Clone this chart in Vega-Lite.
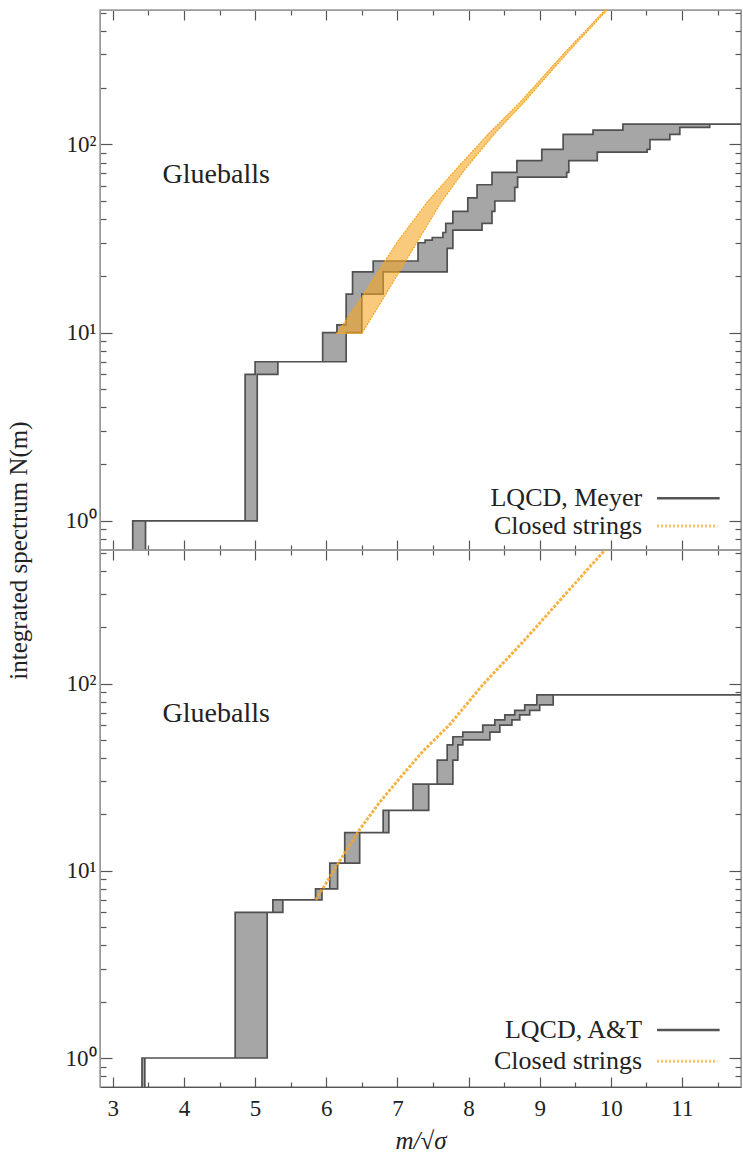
{
  "$schema": "https://vega.github.io/schema/vega-lite/v6.json",
  "padding": {"left": 5, "top": 8, "right": 2, "bottom": 5},
  "spacing": 0,
  "bounds": "flush",
  "config": {
    "view": {"stroke": "#9a9a9a", "strokeWidth": 1.5},
    "font": "Liberation Serif",
    "axis": {"labelFont": "Liberation Serif", "titleFont": "Liberation Serif", "labelFontSize": 23, "titleFontSize": 25, "labelColor": "#222", "titleColor": "#222", "titleFontWeight": "normal", "grid": false, "domainColor": "#9a9a9a", "tickColor": "#555", "tickWidth": 1.2}
  },
  "datasets": {
    "meyer": [
      {"m": 2.5, "up": 0.5, "lo": 0.5}, {"m": 3.28, "up": 1, "lo": 0.5}, {"m": 3.46, "up": 1, "lo": 1},
      {"m": 4.86, "up": 6, "lo": 1}, {"m": 5.0, "up": 7, "lo": 1}, {"m": 5.03, "up": 7, "lo": 6},
      {"m": 5.32, "up": 7, "lo": 7}, {"m": 5.95, "up": 10, "lo": 7}, {"m": 6.15, "up": 11, "lo": 7},
      {"m": 6.28, "up": 16, "lo": 10}, {"m": 6.37, "up": 21, "lo": 10}, {"m": 6.5, "up": 21, "lo": 16},
      {"m": 6.66, "up": 24, "lo": 16}, {"m": 6.8, "up": 24, "lo": 21}, {"m": 7.29, "up": 30, "lo": 21},
      {"m": 7.39, "up": 31, "lo": 21}, {"m": 7.49, "up": 32, "lo": 21}, {"m": 7.64, "up": 34, "lo": 21},
      {"m": 7.68, "up": 38, "lo": 21}, {"m": 7.7, "up": 38, "lo": 28}, {"m": 7.78, "up": 44, "lo": 35},
      {"m": 7.99, "up": 52, "lo": 35}, {"m": 8.12, "up": 61, "lo": 35}, {"m": 8.19, "up": 61, "lo": 38},
      {"m": 8.33, "up": 71, "lo": 44}, {"m": 8.37, "up": 71, "lo": 50}, {"m": 8.65, "up": 71, "lo": 59},
      {"m": 8.68, "up": 82, "lo": 59}, {"m": 8.69, "up": 82, "lo": 67}, {"m": 9.03, "up": 94, "lo": 67},
      {"m": 9.33, "up": 113, "lo": 67}, {"m": 9.38, "up": 113, "lo": 71}, {"m": 9.41, "up": 113, "lo": 82},
      {"m": 9.75, "up": 119, "lo": 82}, {"m": 9.81, "up": 119, "lo": 91}, {"m": 10.17, "up": 128, "lo": 91},
      {"m": 10.51, "up": 128, "lo": 94}, {"m": 10.55, "up": 128, "lo": 106}, {"m": 10.83, "up": 128, "lo": 113},
      {"m": 10.97, "up": 128, "lo": 123}, {"m": 11.39, "up": 128, "lo": 128}, {"m": 12.0, "up": 128, "lo": 128}
    ],
    "at": [
      {"m": 2.5, "up": 0.5, "lo": 0.5}, {"m": 3.41, "up": 1, "lo": 0.5}, {"m": 3.45, "up": 1, "lo": 1},
      {"m": 4.72, "up": 6, "lo": 1}, {"m": 5.17, "up": 6, "lo": 6}, {"m": 5.25, "up": 7, "lo": 6},
      {"m": 5.39, "up": 7, "lo": 7}, {"m": 5.85, "up": 8, "lo": 7}, {"m": 5.94, "up": 8, "lo": 8},
      {"m": 6.05, "up": 11, "lo": 8}, {"m": 6.16, "up": 11, "lo": 11}, {"m": 6.26, "up": 16, "lo": 11},
      {"m": 6.47, "up": 16, "lo": 16}, {"m": 6.8, "up": 21, "lo": 16}, {"m": 6.88, "up": 21, "lo": 21},
      {"m": 7.22, "up": 29, "lo": 21}, {"m": 7.44, "up": 29, "lo": 29}, {"m": 7.56, "up": 39, "lo": 29},
      {"m": 7.7, "up": 47, "lo": 29}, {"m": 7.78, "up": 52, "lo": 39}, {"m": 7.85, "up": 52, "lo": 47},
      {"m": 7.92, "up": 55, "lo": 50}, {"m": 8.2, "up": 60, "lo": 50}, {"m": 8.3, "up": 60, "lo": 55},
      {"m": 8.37, "up": 64, "lo": 55}, {"m": 8.44, "up": 64, "lo": 60}, {"m": 8.51, "up": 68, "lo": 60},
      {"m": 8.61, "up": 68, "lo": 64}, {"m": 8.65, "up": 72, "lo": 64}, {"m": 8.72, "up": 72, "lo": 68},
      {"m": 8.79, "up": 77, "lo": 68}, {"m": 8.86, "up": 77, "lo": 72}, {"m": 8.96, "up": 87, "lo": 72},
      {"m": 9.0, "up": 87, "lo": 77}, {"m": 9.19, "up": 87, "lo": 87}, {"m": 12.0, "up": 87, "lo": 87}
    ],
    "strTop": [
      {"N": 9.9, "left": 6.149, "right": 6.501},
      {"N": 15.7, "left": 6.515, "right": 6.824},
      {"N": 30.1, "left": 6.993, "right": 7.274},
      {"N": 49.1, "left": 7.415, "right": 7.612},
      {"N": 73.6, "left": 7.823, "right": 7.949},
      {"N": 116, "left": 8.301, "right": 8.385},
      {"N": 167, "left": 8.722, "right": 8.779},
      {"N": 308, "left": 9.355, "right": 9.397},
      {"N": 516, "left": 9.917, "right": 9.946},
      {"N": 644, "left": 10.142, "right": 10.17}
    ],
    "strBot": [
      {"m": 5.854, "N": 7}, {"m": 6.191, "N": 11.3}, {"m": 6.473, "N": 16.7}, {"m": 6.754, "N": 23.3},
      {"m": 7.035, "N": 31.3}, {"m": 7.359, "N": 43.5}, {"m": 7.738, "N": 60.5}, {"m": 8.202, "N": 98.8},
      {"m": 8.765, "N": 167}, {"m": 9.664, "N": 404}, {"m": 9.917, "N": 516}, {"m": 10.128, "N": 644}
    ]
  },
  "vconcat": [
    {
      "width": 641,
      "height": 540,
      "layer": [
        {
          "data": {"name": "meyer"},
          "mark": {"type": "area", "interpolate": "step-after", "fill": "#a6a6a6", "stroke": "#505050", "strokeWidth": 1.7, "clip": true},
          "encoding": {
            "x": {"field": "m", "type": "quantitative", "scale": {"domain": [2.82, 11.83], "nice": false, "zero": false},
              "axis": {"orient": "bottom", "values": [3, 3.5, 4, 4.5, 5, 5.5, 6, 6.5, 7, 7.5, 8, 8.5, 9, 9.5, 10, 10.5, 11, 11.5], "labels": false, "title": null,
                "tickSize": {"condition": {"test": "datum.value % 1 == 0", "value": -10}, "value": -5}}},
            "y": {"field": "up", "type": "quantitative", "scale": {"type": "log", "domain": [0.7, 517], "nice": false},
              "axis": {"orient": "left", "values": [0.8, 0.9, 1, 2, 3, 4, 5, 6, 7, 8, 9, 10, 20, 30, 40, 50, 60, 70, 80, 90, 100, 200, 300, 400, 500],
                "labelExpr": "datum.value == 1 ? '10⁰' : datum.value == 10 ? '10¹' : datum.value == 100 ? '10²' : ''",
                "tickSize": {"condition": {"test": "datum.value == 1 || datum.value == 10 || datum.value == 100", "value": -12}, "value": -6},
                "labelPadding": 16,
                "title": "integrated spectrum N(m)", "titleX": -82, "titleY": 540, "titleAngle": -90, "titleAlign": "center", "titleBaseline": "middle"}},
            "y2": {"field": "lo"}
          }
        },
        {
          "data": {"name": "strTop"},
          "mark": {"type": "area", "orient": "horizontal", "fill": "#f5a623", "fillOpacity": 0.6, "stroke": "#f5a623", "strokeWidth": 1.2, "strokeDash": [2, 1], "clip": true},
          "encoding": {
            "y": {"field": "N", "type": "quantitative", "scale": {"type": "log", "domain": [0.7, 517], "nice": false},
              "axis": {"orient": "right", "values": [0.8, 0.9, 1, 2, 3, 4, 5, 6, 7, 8, 9, 10, 20, 30, 40, 50, 60, 70, 80, 90, 100, 200, 300, 400, 500], "labels": false, "title": null,
                "tickSize": {"condition": {"test": "datum.value == 1 || datum.value == 10 || datum.value == 100", "value": -12}, "value": -6}}},
            "x": {"field": "left", "type": "quantitative", "scale": {"domain": [2.82, 11.83], "nice": false, "zero": false},
              "axis": {"orient": "top", "values": [3, 3.5, 4, 4.5, 5, 5.5, 6, 6.5, 7, 7.5, 8, 8.5, 9, 9.5, 10, 10.5, 11, 11.5], "labels": false, "title": null,
                "tickSize": {"condition": {"test": "datum.value % 1 == 0", "value": -10}, "value": -5}}},
            "x2": {"field": "right"}
          }
        },
        {
          "data": {"values": [{"m": 3.7, "N": 69, "t": "Glueballs"}]},
          "mark": {"type": "text", "align": "left", "baseline": "middle", "fontSize": 28, "font": "Liberation Serif", "color": "#222"},
          "encoding": {
            "x": {"field": "m", "type": "quantitative", "axis": null},
            "y": {"field": "N", "type": "quantitative", "axis": null},
            "text": {"field": "t"}
          }
        },
        {
          "data": {"values": [{"m": 10.44, "N": 1.32, "t": "LQCD, Meyer"}, {"m": 10.44, "N": 0.94, "t": "Closed strings"}]},
          "mark": {"type": "text", "align": "right", "baseline": "middle", "fontSize": 26, "font": "Liberation Serif", "color": "#222"},
          "encoding": {
            "x": {"field": "m", "type": "quantitative", "axis": null},
            "y": {"field": "N", "type": "quantitative", "axis": null},
            "text": {"field": "t"}
          }
        },
        {
          "data": {"values": [{"a": 10.65, "b": 11.53, "N": 1.32}]},
          "mark": {"type": "rule", "color": "#555555", "strokeWidth": 2.5},
          "encoding": {
            "x": {"field": "a", "type": "quantitative", "axis": null},
            "x2": {"field": "b"},
            "y": {"field": "N", "type": "quantitative", "axis": null}
          }
        },
        {
          "data": {"values": [{"a": 10.65, "b": 11.5, "N": 0.94}]},
          "mark": {"type": "rule", "color": "#f5a623", "strokeWidth": 3, "strokeDash": [2, 2], "opacity": 0.7},
          "encoding": {
            "x": {"field": "a", "type": "quantitative", "axis": null},
            "x2": {"field": "b"},
            "y": {"field": "N", "type": "quantitative", "axis": null}
          }
        }
      ],
      "resolve": {"axis": {"x": "independent", "y": "independent"}}
    },
    {
      "width": 641,
      "height": 537,
      "layer": [
        {
          "data": {"name": "at"},
          "mark": {"type": "area", "interpolate": "step-after", "fill": "#a6a6a6", "stroke": "#505050", "strokeWidth": 1.7, "clip": true},
          "encoding": {
            "x": {"field": "m", "type": "quantitative", "scale": {"domain": [2.82, 11.83], "nice": false, "zero": false},
              "axis": {"orient": "bottom", "values": [3, 3.5, 4, 4.5, 5, 5.5, 6, 6.5, 7, 7.5, 8, 8.5, 9, 9.5, 10, 10.5, 11, 11.5],
                "labelExpr": "datum.value % 1 == 0 ? format(datum.value, 'd') : ''", "labelPadding": 20, "domainColor": "#555",
                "tickSize": {"condition": {"test": "datum.value % 1 == 0", "value": -10}, "value": -5},
                "title": "m/√σ", "titleFontStyle": "italic", "titleFontSize": 25, "titlePadding": 8}},
            "y": {"field": "up", "type": "quantitative", "scale": {"type": "log", "domain": [0.7, 517], "nice": false},
              "axis": {"orient": "left", "values": [0.8, 0.9, 1, 2, 3, 4, 5, 6, 7, 8, 9, 10, 20, 30, 40, 50, 60, 70, 80, 90, 100, 200, 300, 400, 500],
                "labelExpr": "datum.value == 1 ? '10⁰' : datum.value == 10 ? '10¹' : datum.value == 100 ? '10²' : ''",
                "tickSize": {"condition": {"test": "datum.value == 1 || datum.value == 10 || datum.value == 100", "value": -12}, "value": -6},
                "labelPadding": 16, "title": null}},
            "y2": {"field": "lo"}
          }
        },
        {
          "data": {"name": "strBot"},
          "mark": {"type": "line", "color": "#f5a623", "strokeWidth": 3, "strokeDash": [3, 1.5], "opacity": 0.85, "clip": true},
          "encoding": {
            "x": {"field": "m", "type": "quantitative", "scale": {"domain": [2.82, 11.83], "nice": false, "zero": false},
              "axis": {"orient": "top", "values": [3, 3.5, 4, 4.5, 5, 5.5, 6, 6.5, 7, 7.5, 8, 8.5, 9, 9.5, 10, 10.5, 11, 11.5], "labels": false, "title": null,
                "tickSize": {"condition": {"test": "datum.value % 1 == 0", "value": -10}, "value": -5}}},
            "y": {"field": "N", "type": "quantitative", "scale": {"type": "log", "domain": [0.7, 517], "nice": false},
              "axis": {"orient": "right", "values": [0.8, 0.9, 1, 2, 3, 4, 5, 6, 7, 8, 9, 10, 20, 30, 40, 50, 60, 70, 80, 90, 100, 200, 300, 400, 500], "labels": false, "title": null,
                "tickSize": {"condition": {"test": "datum.value == 1 || datum.value == 10 || datum.value == 100", "value": -12}, "value": -6}}}
          }
        },
        {
          "data": {"values": [{"m": 3.7, "N": 69, "t": "Glueballs"}]},
          "mark": {"type": "text", "align": "left", "baseline": "middle", "fontSize": 28, "font": "Liberation Serif", "color": "#222"},
          "encoding": {
            "x": {"field": "m", "type": "quantitative", "axis": null},
            "y": {"field": "N", "type": "quantitative", "axis": null},
            "text": {"field": "t"}
          }
        },
        {
          "data": {"values": [{"m": 10.44, "N": 1.41, "t": "LQCD, A&T"}, {"m": 10.44, "N": 0.96, "t": "Closed strings"}]},
          "mark": {"type": "text", "align": "right", "baseline": "middle", "fontSize": 26, "font": "Liberation Serif", "color": "#222"},
          "encoding": {
            "x": {"field": "m", "type": "quantitative", "axis": null},
            "y": {"field": "N", "type": "quantitative", "axis": null},
            "text": {"field": "t"}
          }
        },
        {
          "data": {"values": [{"a": 10.65, "b": 11.53, "N": 1.41}]},
          "mark": {"type": "rule", "color": "#555555", "strokeWidth": 2.5},
          "encoding": {
            "x": {"field": "a", "type": "quantitative", "axis": null},
            "x2": {"field": "b"},
            "y": {"field": "N", "type": "quantitative", "axis": null}
          }
        },
        {
          "data": {"values": [{"a": 10.65, "b": 11.5, "N": 0.96}]},
          "mark": {"type": "rule", "color": "#f5a623", "strokeWidth": 3, "strokeDash": [2, 2], "opacity": 0.7},
          "encoding": {
            "x": {"field": "a", "type": "quantitative", "axis": null},
            "x2": {"field": "b"},
            "y": {"field": "N", "type": "quantitative", "axis": null}
          }
        }
      ],
      "resolve": {"axis": {"x": "independent", "y": "independent"}}
    }
  ]
}
